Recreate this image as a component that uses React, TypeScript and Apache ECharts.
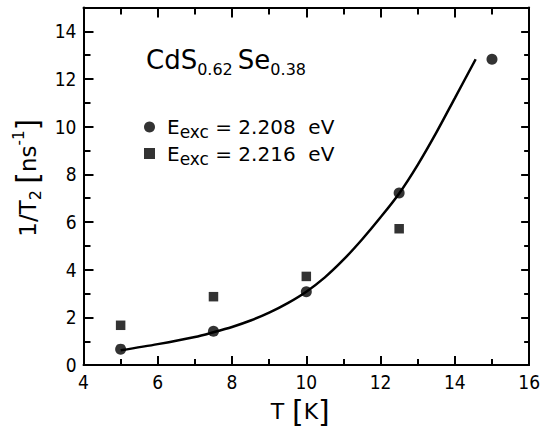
import React, { useEffect, useRef } from "react";
import * as echarts from "echarts";

// Data
const circleT = [5, 7.5, 10, 12.5, 15];
const circleRate = [0.67, 1.42, 3.08, 7.22, 12.83];
const squareT = [5, 7.5, 10, 12.5];
const squareRate = [1.67, 2.87, 3.72, 5.72];
const fitT = [5, 6, 7, 7.5, 8, 8.5, 9, 9.5, 10, 10.5, 11, 11.5, 12, 12.5, 13, 13.5, 14, 14.56];
const fitRate = [0.62, 0.88, 1.18, 1.38, 1.6, 1.87, 2.2, 2.6, 3.08, 3.68, 4.42, 5.27, 6.2, 7.2, 8.4, 9.75, 11.2, 12.83];
const legendLabels: Record<string, string> = {
  c: "2.208",
  s: "2.216",
};

const FONT = "DejaVu Sans";
const TICK_FONT = "DejaVu Sans Condensed, DejaVu Sans";

export default function App() {
  const ref = useRef<HTMLDivElement>(null);
  useEffect(() => {
    if (!ref.current) return;
    const chart = echarts.init(ref.current, null, { renderer: "svg" });
    const axisCommon = {
      type: "value" as const,
      axisLine: { show: true, onZero: false, lineStyle: { color: "#000", width: 2 } },
      splitLine: { show: false },
      minorSplitLine: { show: false },
    };
    chart.setOption({
      animation: false,
      backgroundColor: "#fff",
      textStyle: { fontFamily: FONT, color: "#000" },
      grid: { left: 83.5, right: 10, top: 7.5, bottom: 65 },
      title: {
        left: 146,
        top: 43,
        padding: 0,
        text: "{m|CdS}{s|0.62}{g| }{m|Se}{s|0.38}",
        textStyle: {
          fontFamily: FONT,
          fontWeight: "normal",
          rich: {
            m: { fontFamily: FONT, fontWeight: "normal", fontSize: 26, lineHeight: 34, color: "#000" },
            s: { fontFamily: FONT, fontWeight: "normal", fontSize: 16, lineHeight: 16, verticalAlign: "bottom", color: "#000" },
            g: { fontFamily: FONT, fontSize: 16, lineHeight: 34 },
          },
        },
      },
      legend: {
        left: 144,
        top: 117,
        padding: 0,
        orient: "vertical",
        itemGap: 3,
        itemWidth: 11,
        itemHeight: 11,
        data: [
          { name: "c", icon: "circle" },
          { name: "s", icon: "rect" },
        ],
        formatter: (name: string) => `{m|E}{s|exc}{m| = ${legendLabels[name]}  eV}`,
        textStyle: {
          padding: [0, 0, 0, 7],
          rich: {
            m: { fontFamily: FONT, fontSize: 20, lineHeight: 27, color: "#000" },
            s: { fontFamily: FONT, fontSize: 17, lineHeight: 14, verticalAlign: "bottom", color: "#000" },
          },
        },
      },
      xAxis: [
        {
          ...axisCommon,
          min: 4,
          max: 16,
          interval: 2,
          position: "bottom",
          axisTick: { show: true, inside: true, length: 9, lineStyle: { color: "#000", width: 2 } },
          minorTick: { show: true, splitNumber: 2, length: 6, lineStyle: { color: "#000", width: 2 } },
          axisLabel: { show: true, fontFamily: TICK_FONT, fontSize: 19, color: "#000", margin: 7 },
          name: "{m|T}{g|  }{b|[}{m|K}{b|]}",
          nameLocation: "middle",
          nameGap: 28,
          nameTextStyle: {
            padding: [0, 12, 0, 0],
            rich: {
              m: { fontFamily: FONT, fontSize: 22, lineHeight: 32, color: "#000" },
              g: { fontFamily: FONT, fontSize: 12, lineHeight: 32 },
              b: { fontFamily: FONT, fontSize: 30, lineHeight: 32, color: "#000" },
            },
          },
        },
        {
          ...axisCommon,
          min: 4,
          max: 16,
          interval: 2,
          position: "top",
          axisTick: { show: true, inside: true, length: 10, lineStyle: { color: "#000", width: 2 } },
          minorTick: { show: true, splitNumber: 2, length: 7, lineStyle: { color: "#000", width: 2 } },
          axisLabel: { show: false },
        },
      ],
      yAxis: [
        {
          ...axisCommon,
          min: 0,
          max: 15,
          interval: 2,
          position: "left",
          axisTick: { show: true, inside: true, length: 10, lineStyle: { color: "#000", width: 2 } },
          minorTick: { show: true, splitNumber: 2, length: 7, lineStyle: { color: "#000", width: 2 } },
          axisLabel: { show: true, showMaxLabel: false, fontFamily: TICK_FONT, fontSize: 19, color: "#000", margin: 7 },
          name: "{m|1/T}{s|2}{g| }{b|[}{m|ns}{p|-1}{b|]}",
          nameLocation: "middle",
          nameRotate: 90,
          nameGap: 39,
          nameTextStyle: {
            padding: [0, 0, 0, 17],
            rich: {
              m: { fontFamily: FONT, fontSize: 23, lineHeight: 32, color: "#000" },
              s: { fontFamily: FONT, fontSize: 16, lineHeight: 14, verticalAlign: "bottom", color: "#000" },
              p: { fontFamily: FONT, fontSize: 15, lineHeight: 14, verticalAlign: "top", color: "#000" },
              g: { fontFamily: FONT, fontSize: 20, lineHeight: 32 },
              b: { fontFamily: FONT, fontSize: 30, lineHeight: 32, color: "#000" },
            },
          },
        },
        {
          ...axisCommon,
          min: 0,
          max: 15,
          interval: 2,
          position: "right",
          axisTick: { show: true, inside: true, length: 8, lineStyle: { color: "#000", width: 2 } },
          minorTick: { show: true, splitNumber: 2, length: 5, lineStyle: { color: "#000", width: 2 } },
          axisLabel: { show: false },
        },
      ],
      series: [
        {
          name: "fit",
          type: "line",
          xAxisIndex: 0,
          yAxisIndex: 0,
          data: fitT.map((t, i) => [t, fitRate[i]]),
          smooth: 0.3,
          showSymbol: false,
          symbol: "none",
          lineStyle: { color: "#000", width: 2.5 },
          z: 2,
        },
        {
          name: "c",
          type: "scatter",
          xAxisIndex: 0,
          yAxisIndex: 0,
          symbol: "circle",
          symbolSize: 11,
          itemStyle: { color: "#000" },
          data: circleT.map((t, i) => [t, circleRate[i]]),
          z: 3,
        },
        {
          name: "s",
          type: "scatter",
          xAxisIndex: 0,
          yAxisIndex: 0,
          symbol: "rect",
          symbolSize: 9.5,
          itemStyle: { color: "#000" },
          data: squareT.map((t, i) => [t, squareRate[i]]),
          z: 3,
        },
      ],
    });
    return () => chart.dispose();
  }, []);
  return <div ref={ref} style={{ width: 543, height: 431, position: "absolute", left: 0, top: 0 }} />;
}
